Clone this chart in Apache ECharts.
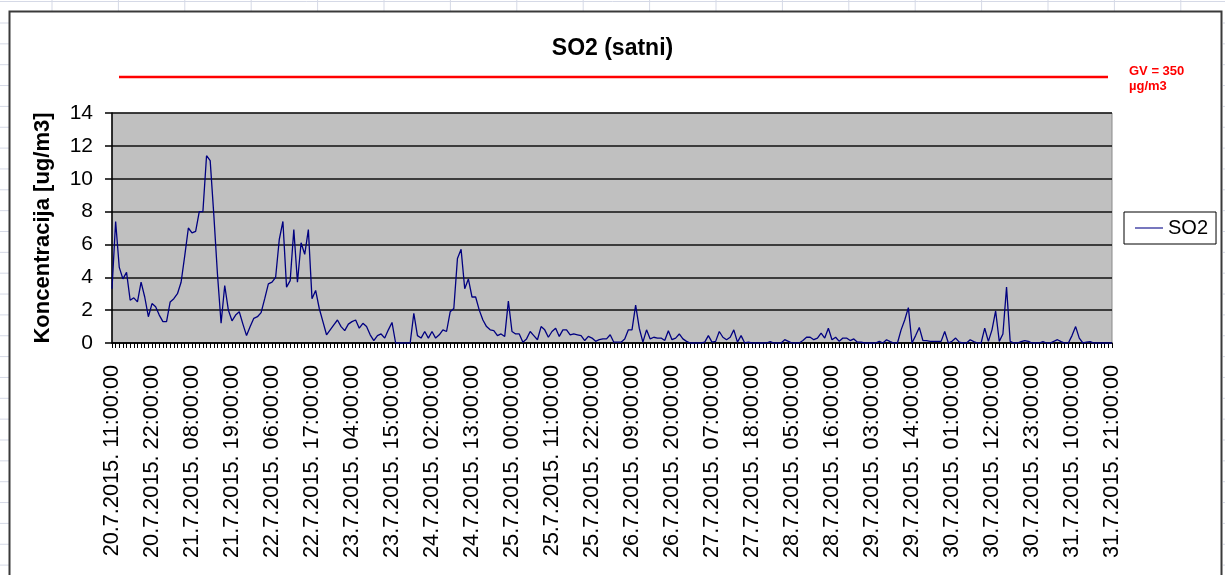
<!DOCTYPE html>
<html>
<head>
<meta charset="utf-8">
<title>SO2 (satni)</title>
<script src="https://cdn.jsdelivr.net/npm/echarts@6/dist/echarts.min.js"></script>
<style>
  html, body { margin: 0; padding: 0; background: #fff; }
  #chart { width: 1225px; height: 575px; }
</style>
</head>
<body>
<div id="chart"></div>
<script>
// satne vrijednosti SO2, od 20.7.2015. 11:00 do 31.7.2015. 21:00 (11 vrijednosti po retku)
const so2Values = [
  3.3, 7.4, 4.6, 3.9, 4.3, 2.6, 2.75, 2.5, 3.7, 2.8, 1.6,
  2.4, 2.2, 1.7, 1.3, 1.3, 2.5, 2.7, 3.0, 3.7, 5.3, 7.0,
  6.7, 6.8, 8.0, 8.0, 11.4, 11.1, 7.8, 4.2, 1.2, 3.5, 2.0,
  1.35, 1.7, 1.9, 1.15, 0.45, 1.0, 1.5, 1.6, 1.85, 2.7, 3.6,
  3.7, 4.0, 6.3, 7.4, 3.4, 3.8, 6.9, 3.7, 6.1, 5.4, 6.9,
  2.7, 3.2, 2.1, 1.3, 0.5, 0.8, 1.1, 1.4, 1.0, 0.75, 1.15,
  1.3, 1.4, 0.9, 1.2, 1.0, 0.5, 0.15, 0.45, 0.55, 0.3, 0.8,
  1.25, 0, 0, 0, 0, 0, 1.8, 0.45, 0.3, 0.7, 0.3,
  0.7, 0.3, 0.5, 0.8, 0.7, 1.9, 2.1, 5.15, 5.7, 3.3, 3.9,
  2.8, 2.8, 2.0, 1.4, 1.0, 0.8, 0.75, 0.45, 0.55, 0.4, 2.55,
  0.7, 0.55, 0.55, 0.05, 0.25, 0.7, 0.45, 0.2, 1.0, 0.8, 0.35,
  0.7, 0.9, 0.4, 0.8, 0.8, 0.5, 0.55, 0.5, 0.45, 0.15, 0.4,
  0.3, 0.1, 0.2, 0.25, 0.25, 0.5, 0.05, 0.05, 0.05, 0.25, 0.8,
  0.8, 2.3, 0.9, 0.05, 0.8, 0.25, 0.35, 0.3, 0.3, 0.15, 0.75,
  0.2, 0.3, 0.55, 0.25, 0.1, 0, 0, 0, 0, 0.05, 0.45,
  0.05, 0.1, 0.7, 0.35, 0.2, 0.35, 0.8, 0.05, 0.45, 0, 0.05,
  0, 0, 0, 0, 0, 0.08, 0, 0, 0, 0.2, 0.1,
  0, 0, 0, 0.15, 0.35, 0.35, 0.2, 0.3, 0.6, 0.3, 0.9,
  0.2, 0.35, 0.1, 0.3, 0.3, 0.15, 0.25, 0.05, 0.05, 0, 0,
  0, 0, 0.1, 0, 0.2, 0.08, 0, 0, 0.8, 1.4, 2.15,
  0, 0.45, 0.95, 0.15, 0.15, 0.1, 0.1, 0.1, 0.1, 0.7, 0,
  0.1, 0.3, 0.05, 0, 0, 0.2, 0.08, 0, 0, 0.9, 0.1,
  0.8, 1.95, 0.1, 0.55, 3.4, 0.1, 0, 0, 0.08, 0.15, 0.1,
  0, 0, 0, 0.08, 0, 0, 0.1, 0.2, 0.08, 0, 0,
  0.45, 1.0, 0.3, 0, 0.05, 0.08, 0, 0, 0, 0, 0,
  0
];

// vremenske oznake (prvi dan ima i 24:00:00)
const categories = [];
for (let d = 20; d <= 31; d++) {
  const first = d === 20 ? 11 : 0;
  const last = d === 20 ? 24 : (d === 31 ? 21 : 23);
  for (let h = first; h <= last; h++) {
    categories.push(d + '.7.2015. ' + String(h).padStart(2, '0') + ':00:00');
  }
}

const yTicks = { min: 0, max: 14, interval: 2 };
const limitText = ['GV = 350', 'µg/m3'];

const font = '"Liberation Sans", Arial, sans-serif';
const sheetLine = '#d5d9e6';

// linije radnog lista oko grafikona
let sheet = [];
for (let x = 52; x < 1225; x += 66.4) {
  sheet.push({ type: 'line', shape: { x1: x, y1: 0, x2: x, y2: 11 }, style: { stroke: sheetLine, lineWidth: 1 } });
}
sheet.push({ type: 'line', shape: { x1: 0, y1: 1.5, x2: 1225, y2: 1.5 }, style: { stroke: sheetLine, lineWidth: 1 } });
for (let y = 23; y < 575; y += 20.85) {
  sheet.push({ type: 'line', shape: { x1: 0, y1: y, x2: 9, y2: y }, style: { stroke: sheetLine, lineWidth: 1 } });
  sheet.push({ type: 'line', shape: { x1: 1223, y1: y, x2: 1225, y2: y }, style: { stroke: sheetLine, lineWidth: 1 } });
}

let myChart = echarts.init(document.getElementById('chart'));
let option = {
  backgroundColor: '#fff',
  animation: false,
  title: {
    text: 'SO2 (satni)',
    left: 'center',
    top: 32,
    textStyle: { fontFamily: font, fontSize: 23, fontWeight: 'bold', color: '#000' }
  },
  legend: {
    data: ['SO2'],
    left: 1124,
    top: 212,
    orient: 'vertical',
    padding: [5, 8, 5, 11],
    icon: 'rect',
    itemWidth: 28,
    itemHeight: 1.5,
    itemGap: 0,
    itemTextGap: 4,
    itemStyle: { color: '#4a4aa8' },
    borderColor: '#000',
    borderWidth: 1,
    backgroundColor: '#fff',
    textStyle: { fontFamily: font, fontSize: 20, color: '#000', lineHeight: 22 }
  },
  grid: {
    left: 112,
    right: 113,
    top: 113,
    bottom: 232,
    show: true,
    backgroundColor: '#c0c0c0',
    borderColor: '#8a8a8a',
    borderWidth: 1
  },
  xAxis: {
    type: 'category',
    data: categories,
    boundaryGap: false,
    axisLine: { lineStyle: { color: '#000', width: 1.5 } },
    axisTick: { show: true, interval: 0, length: 5, lineStyle: { color: '#000', width: 1 } },
    axisLabel: {
      interval: 10,
      rotate: 90,
      margin: 22,
      fontFamily: font,
      fontSize: 21.7,
      color: '#000'
    },
    splitLine: { show: false }
  },
  yAxis: {
    type: 'value',
    min: yTicks.min,
    max: yTicks.max,
    interval: yTicks.interval,
    name: 'Koncentracija [ug/m3]',
    nameLocation: 'middle',
    nameGap: 58,
    nameTextStyle: { fontFamily: font, fontSize: 22, fontWeight: 'bold', color: '#000' },
    axisLine: { show: true, lineStyle: { color: '#000', width: 1.5 } },
    axisTick: { show: true, length: 7, lineStyle: { color: '#000', width: 1.5 } },
    axisLabel: { margin: 19, fontFamily: font, fontSize: 21, color: '#000' },
    splitLine: { show: true, lineStyle: { color: '#111', width: 1.5 } }
  },
  series: [{
    name: 'SO2',
    type: 'line',
    data: so2Values,
    symbol: 'none',
    lineStyle: { color: '#000080', width: 1.3 },
    itemStyle: { color: '#000080' }
  }],
  graphic: sheet.concat([
    {
      type: 'rect',
      silent: true,
      z: 100,
      shape: { x: 9.5, y: 11.5, width: 1212, height: 600 },
      style: { fill: 'none', stroke: '#3a3a3a', lineWidth: 2 }
    },
    {
      type: 'line',
      shape: { x1: 119, y1: 77, x2: 1108, y2: 77 },
      style: { stroke: '#ff0000', lineWidth: 2.5 }
    },
    {
      type: 'text',
      x: 1129,
      y: 65,
      style: { text: limitText[0], fill: '#ff0000', font: 'bold 13px ' + font }
    },
    {
      type: 'text',
      x: 1129,
      y: 80,
      style: { text: limitText[1], fill: '#ff0000', font: 'bold 13px ' + font }
    }
  ])
};
myChart.setOption(option);
</script>
</body>
</html>
